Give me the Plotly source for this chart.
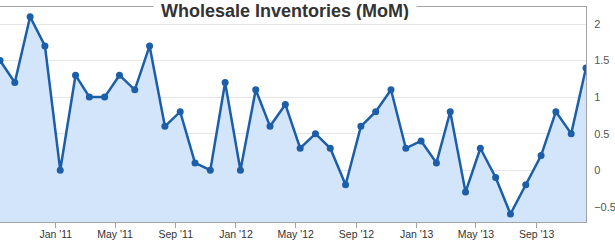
import plotly.graph_objects as go

# ---- data ----
dates = [
    "2010-09-10", "2010-10-10", "2010-11-10", "2010-12-10",
    "2011-01-10", "2011-02-10", "2011-03-10", "2011-04-10", "2011-05-10", "2011-06-10",
    "2011-07-10", "2011-08-10", "2011-09-10", "2011-10-10", "2011-11-10", "2011-12-10",
    "2012-01-10", "2012-02-10", "2012-03-10", "2012-04-10", "2012-05-10", "2012-06-10",
    "2012-07-10", "2012-08-10", "2012-09-10", "2012-10-10", "2012-11-10", "2012-12-10",
    "2013-01-10", "2013-02-10", "2013-03-10", "2013-04-10", "2013-05-10", "2013-06-10",
    "2013-07-10", "2013-08-10", "2013-09-10", "2013-10-10", "2013-11-10", "2013-12-10",
]
values = [
    1.5, 1.2, 2.1, 1.7,
    0.0, 1.3, 1.0, 1.0, 1.3, 1.1,
    1.7, 0.6, 0.8, 0.1, 0.0, 1.2,
    0.0, 1.1, 0.6, 0.9, 0.3, 0.5,
    0.3, -0.2, 0.6, 0.8, 1.1, 0.3,
    0.4, 0.1, 0.8, -0.3, 0.3, -0.1,
    -0.6, -0.2, 0.2, 0.8, 0.5, 1.4,
]
tick_dates = ["2011-01-01", "2011-05-01", "2011-09-01", "2012-01-01", "2012-05-01",
              "2012-09-01", "2013-01-01", "2013-05-01", "2013-09-01"]
tick_labels = ["Jan '11", "May '11", "Sep '11", "Jan '12", "May '12",
               "Sep '12", "Jan '13", "May '13", "Sep '13"]
y_ticks = [-0.5, 0, 0.5, 1, 1.5, 2]
title = "Wholesale Inventories (MoM)"

Y_MIN, Y_MAX = -0.709, 2.233
LINE = "#1c5ea8"
FILL = "#d3e5fb"
AXIS = "#a3a3a3"

PLOT_W, PLOT_H, TOP = 586, 215, 7

fig = go.Figure()
# baseline at the bottom of the axis so the area fills down to the axis line
fig.add_trace(go.Scatter(x=dates, y=[Y_MIN] * len(dates), mode="lines",
                         line=dict(width=0), hoverinfo="skip", showlegend=False))
fig.add_trace(go.Scatter(x=dates, y=values, mode="lines+markers",
                         line=dict(color=LINE, width=2.5),
                         marker=dict(color=LINE, size=7),
                         fill="tonexty", fillcolor=FILL, showlegend=False))

fig.update_layout(
    width=615, height=245,
    margin=dict(l=0, r=615 - PLOT_W, t=TOP, b=245 - TOP - PLOT_H),
    paper_bgcolor="white", plot_bgcolor="white",
    font=dict(family="Liberation Sans, Arial, sans-serif", color="#333333"),
    xaxis=dict(
        type="date", range=[dates[0], dates[-1]],
        tickvals=tick_dates, ticktext=tick_labels,
        showgrid=False, zeroline=False,
        showline=True, linecolor=AXIS, linewidth=1, mirror=True,
        ticks="outside", ticklen=5, tickcolor=AXIS,
        ticklabelstandoff=-3,
        tickfont=dict(size=10.5, color="#333333"),
    ),
    yaxis=dict(
        side="right", range=[Y_MIN, Y_MAX],
        tickvals=y_ticks,
        showgrid=True, gridcolor="#e6e6e6", gridwidth=1, zeroline=False,
        showline=True, linecolor=AXIS, linewidth=1,
        ticks="", ticklabelstandoff=5,
        tickfont=dict(size=11, color="#555555"),
    ),
    annotations=[dict(
        text="<b>" + title + "</b>", xref="paper", yref="paper",
        x=285 / PLOT_W, y=1 + TOP / PLOT_H, xanchor="center", yanchor="top",
        width=262, height=19, borderpad=0,
        showarrow=False, bgcolor="white",
        font=dict(size=18, color="#333333", family="Liberation Sans, Arial, sans-serif"),
    )],
)

fig.write_html("out.html")
